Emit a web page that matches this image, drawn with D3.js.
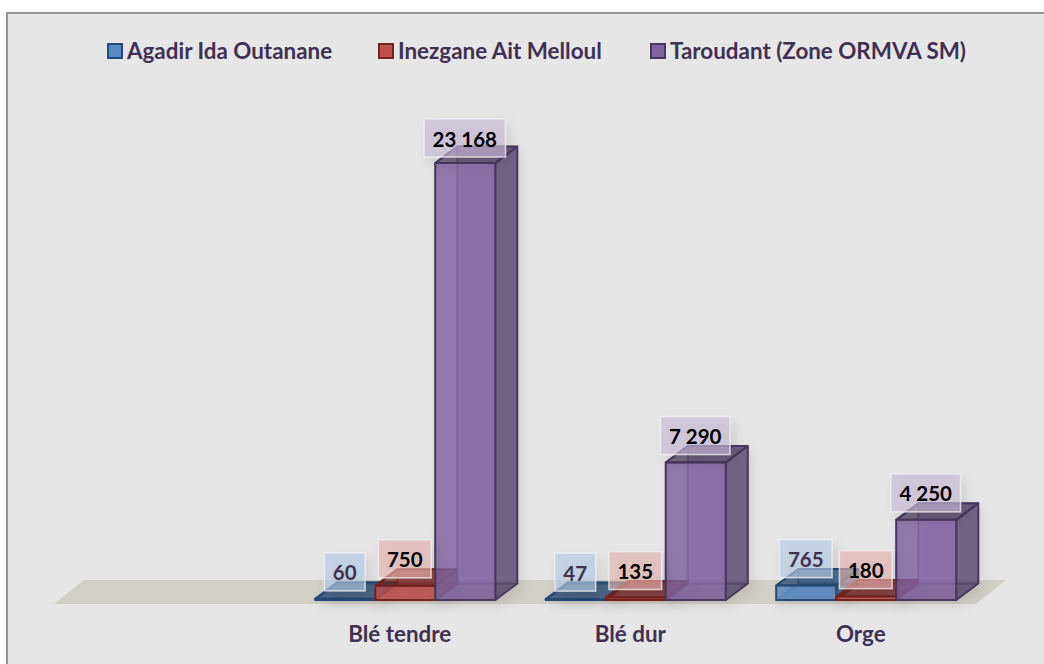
<!DOCTYPE html>
<html>
<head>
<meta charset="utf-8">
<script src="https://cdn.jsdelivr.net/npm/d3@7"></script>
<style>
  html, body { margin: 0; padding: 0; background: #fff; }
  svg { display: block; font-family: Lato, "Open Sans", sans-serif; font-weight: 700; }
</style>
</head>
<body>
<div id="chart"></div>
<script>
// chart data
var categories = ["Blé tendre", "Blé dur", "Orge"];
var seriesNames = ["Agadir Ida Outanane", "Inezgane Ait Melloul", "Taroudant (Zone ORMVA SM)"];
var agadir = [60, 47, 765];
var inezgane = [750, 135, 180];
var taroudant = [23168, 7290, 4250];
var seriesValues = [agadir, inezgane, taroudant];

var width = 1044, height = 664;
var depthX = 22, depthY = 16.5;
var frontColors = ["#5a8ac6", "#c0504d", "#8064a2"];
var edgeColors = ["#254a75", "#76241f", "#49385f"];
var labelColors = ["#403152", "#000", "#000"];
var legendX = [107, 378, 650];

var svg = d3.select("#chart").append("svg")
    .attr("width", width)
    .attr("height", height);

var defs = svg.append("defs");
function addShadow(id, op, blur) {
  var f = defs.append("filter").attr("id", id)
      .attr("x", "-40%").attr("y", "-60%").attr("width", "200%").attr("height", "260%");
  f.append("feDropShadow")
      .attr("dx", 4).attr("dy", 6).attr("stdDeviation", blur)
      .attr("flood-color", "#000").attr("flood-opacity", op);
}
addShadow("barShadow", 0.1, 6);
addShadow("boxShadow", 0.17, 6);

// background, only top and left edges show a border line
svg.append("rect")
    .attr("x", 6).attr("y", 12)
    .attr("width", width - 6).attr("height", height - 12)
    .attr("fill", "#e6e6e6");
svg.append("path")
    .attr("d", "M7," + height + "V13H" + width)
    .attr("fill", "none")
    .attr("stroke", "#969696")
    .attr("stroke-width", 2);

// the empty first slot is a blank category in the original sheet
var x = d3.scaleBand()
    .domain([""].concat(categories))
    .range([54, 976])
    .paddingInner(0.219)
    .paddingOuter(0.1095);

var xSeries = d3.scaleBand()
    .domain(d3.range(seriesNames.length))
    .range([5.5, x.bandwidth() + 5.5]);

var y = d3.scaleLinear()
    .domain([0, d3.max(taroudant)])
    .range([600, 163]);

// floor
var floorFront = y(0) + 4, floorBack = y(0) - 20;
svg.append("polygon")
    .attr("points", [[54, floorFront], [84, floorBack], [1006, floorBack], [976, floorFront]].join(" "))
    .attr("fill", "#d1cfc6");

function pts(list) { return list.map(function(p) { return p.join(","); }).join(" "); }

// bars
var bars = [];
seriesValues.forEach(function(vals, s) {
  vals.forEach(function(v, c) {
    bars.push({s: s, value: v, cat: categories[c]});
  });
});
// draw category by category, left to right so each bar overlaps the one before
bars.sort(function(a, b) {
  return categories.indexOf(a.cat) - categories.indexOf(b.cat) || a.s - b.s;
});

var barG = svg.selectAll("g.bar").data(bars).enter().append("g")
    .attr("class", "bar")
    .attr("filter", "url(#barShadow)")
    .each(function(d) {
      var g = d3.select(this);
      var x0 = x(d.cat) + xSeries(d.s), x1 = x0 + xSeries.bandwidth();
      var yt = y(d.value), yb = y(0);
      var dx = depthX, dy = depthY;
      var col = frontColors[d.s], edge = edgeColors[d.s];

      function face(list, fill, op, sop) {
        g.append("polygon").attr("points", pts(list))
            .attr("fill", fill).attr("fill-opacity", op)
            .attr("stroke", edge).attr("stroke-opacity", sop)
            .attr("stroke-width", 2).attr("stroke-linejoin", "round");
      }
      // back, left, bottom
      face([[x0 + dx, yt - dy], [x1 + dx, yt - dy], [x1 + dx, yb - dy], [x0 + dx, yb - dy]], col, 0.5, 0.3);
      face([[x0, yt], [x0 + dx, yt - dy], [x0 + dx, yb - dy], [x0, yb]], edge, 0.15, 0.3);
      face([[x0, yb], [x1, yb], [x1 + dx, yb - dy], [x0 + dx, yb - dy]], edge, 0.4, 0.3);
      // right, top, front
      face([[x1, yt], [x1 + dx, yt - dy], [x1 + dx, yb - dy], [x1, yb]], edge, 0.58, 1);
      face([[x0, yt], [x1, yt], [x1 + dx, yt - dy], [x0 + dx, yt - dy]], edge, 0.65, 1);
      face([[x0, yt], [x1, yt], [x1, yb], [x0, yb]], col, 0.78, 1);
    });

// value labels
var fmt = function(v) { return d3.format(",")(v).replace(/,/g, " "); };

var labelG = svg.selectAll("g.lab").data(bars).enter().append("g")
    .attr("class", "lab")
    .each(function(d) {
      var g = d3.select(this);
      var cx = x(d.cat) + xSeries(d.s) + xSeries.bandwidth() / 2 - 0.5;
      // the tallest label sits a little closer to its bar
      var bottom = Math.max(y(d.value) - 8, 157);
      var box = g.append("rect").attr("filter", "url(#boxShadow)");
      var t = g.append("text")
          .attr("x", cx)
          .attr("y", bottom - 10.5)
          .attr("text-anchor", "middle")
          .attr("font-size", 20.5)
          .attr("fill", labelColors[d.s])
          .text(fmt(d.value));
      var w = t.node().getComputedTextLength() + 17;
      box.attr("x", cx - w / 2).attr("y", bottom - 38)
          .attr("width", w).attr("height", 38)
          .attr("fill", d3.interpolateRgb(frontColors[d.s], "#fff")(0.55))
          .attr("fill-opacity", 0.62)
          .attr("stroke", "#f1eff3")
          .attr("stroke-opacity", 0.75)
          .attr("stroke-width", 1.5);
    });

// category axis
var axis = svg.append("g")
    .attr("transform", "translate(0,620)")
    .call(d3.axisBottom(x).tickSize(0).tickPadding(6));
axis.select(".domain").remove();
axis.selectAll("text")
    .attr("font-family", "Lato, sans-serif")
    .attr("font-weight", 700)
    .attr("font-size", 22.4)
    .attr("fill", "#403152");

// legend
var legend = svg.selectAll("g.leg").data(seriesNames).enter().append("g")
    .attr("class", "leg")
    .attr("transform", function(d, i) { return "translate(" + legendX[i] + ",44)"; });
legend.append("rect")
    .attr("x", 1).attr("y", 0)
    .attr("width", 14).attr("height", 14)
    .attr("fill", function(d, i) { return frontColors[i]; })
    .attr("stroke", function(d, i) { return edgeColors[i]; })
    .attr("stroke-width", 2);
legend.append("text")
    .attr("x", 20).attr("y", 15)
    .attr("font-size", 22.4)
    .attr("fill", "#403152")
    .text(function(d) { return d; });
</script>
</body>
</html>
